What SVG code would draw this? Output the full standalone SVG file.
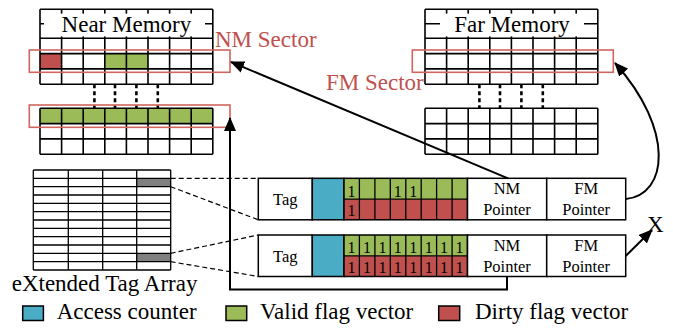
<svg xmlns="http://www.w3.org/2000/svg" width="673" height="329" viewBox="0 0 673 329" font-family="'Liberation Serif', 'Times New Roman', serif">
<style>
text{font-family:"Liberation Serif","Times New Roman",serif;fill:#000}
.big{font-size:23px}
.sm{font-size:16.5px}
.one{font-size:16px;text-anchor:middle}
.red{fill:#C0504D}
.grid{fill:none;stroke:#000;stroke-width:1.6}
.thin{fill:none;stroke:#000;stroke-width:1.3}
.dot{fill:none;stroke:#000;stroke-width:2.6;stroke-dasharray:4 3}
.dash{fill:none;stroke:#000;stroke-width:1.2;stroke-dasharray:5 3}
.sec{fill:none;stroke:#D0655F;stroke-width:1.6}
.box{stroke:#000;stroke-width:1.5}
.g{fill:#9BBB59}.r{fill:#C0504D}.b{fill:#4BACC6}.w{fill:#fff}.gr{fill:#808080}
.conn{fill:none;stroke:#000;stroke-width:2}
</style>
<defs>
<marker id="ah" viewBox="0 0 14 12" refX="13" refY="6" markerWidth="14" markerHeight="12" markerUnits="userSpaceOnUse" orient="auto">
<path d="M0,0 L14,6 L0,12 z" fill="#000"/>
</marker>
<path id="upgrid" d="M0,9.3H172.8M0,23.8H172.8M0,38.3H172.8M0,53.6H172.8M0,68.9H172.8M0,84.2H172.8M0,9.3V84.2M21.6,9.3V84.2M43.2,9.3V84.2M64.8,9.3V84.2M86.4,9.3V84.2M108,9.3V84.2M129.6,9.3V84.2M151.2,9.3V84.2M172.8,9.3V84.2"/>
<path id="lowgrid" d="M0,108.3H172.8M0,123.6H172.8M0,138.9H172.8M0,154.2H172.8M0,108.3V154.2M21.6,108.3V154.2M43.2,108.3V154.2M64.8,108.3V154.2M86.4,108.3V154.2M108,108.3V154.2M129.6,108.3V154.2M151.2,108.3V154.2M172.8,108.3V154.2"/>
<path id="dots" d="M54.4,84.2V108.3M75,84.2V108.3M96.4,84.2V108.3M117.8,84.2V108.3"/>
</defs>

<g id="near-memory" transform="translate(40,0)">
<rect class="r" x="0" y="53.6" width="21.6" height="15.3"/>
<rect class="g" x="64.8" y="53.6" width="43.2" height="15.3"/>
<rect class="g" x="0" y="108.3" width="172.8" height="15.3"/>
<use href="#upgrid" class="grid"/>
<rect class="w" x="4" y="13.6" width="161" height="22.8"/>
<use href="#lowgrid" class="grid"/>
<use href="#dots" class="dot"/>
<text class="big" x="86.4" y="31.5" text-anchor="middle">Near Memory</text>
<rect class="sec" x="-10.7" y="50" width="200.7" height="22.3"/>
<rect class="sec" x="-10.7" y="105" width="200.7" height="22.3"/>
</g>
<g id="nm-sector-label"><text class="big red" x="215" y="46.5">NM Sector</text></g>

<g id="far-memory" transform="translate(425,0)">
<use href="#upgrid" class="grid"/>
<rect class="w" x="15" y="13.6" width="144" height="22.8"/>
<use href="#lowgrid" class="grid"/>
<use href="#dots" class="dot"/>
<text class="big" x="87" y="31.5" text-anchor="middle">Far Memory</text>
<rect class="sec" x="-12.7" y="50" width="201" height="22.3"/>
</g>
<g id="fm-sector-label"><text class="big red" x="326" y="90">FM Sector</text></g>

<g id="xta">
<rect class="gr" x="136.7" y="178.3" width="34" height="8.4"/>
<rect class="gr" x="136.7" y="253.3" width="34" height="8.4"/>
<path class="thin" d="M33.3,170H170.7M33.3,178.3H170.7M33.3,186.7H170.7M33.3,195H170.7M33.3,203.3H170.7M33.3,211.7H170.7M33.3,220H170.7M33.3,228.3H170.7M33.3,236.7H170.7M33.3,245H170.7M33.3,253.3H170.7M33.3,261.7H170.7M33.3,270H170.7M33.3,170V270M68.3,170V270M102.7,170V270M136.7,170V270M170.7,170V270"/>
<text class="big" x="11.7" y="290.5">eXtended Tag Array</text>
</g>

<g id="entry1">
<rect class="box w" x="258.3" y="178.3" width="54" height="41.5"/>
<rect class="box b" x="312.3" y="178.3" width="31.7" height="41.5"/>
<rect class="g" x="344" y="178.3" width="123.5" height="20.9"/>
<rect class="r" x="344" y="199.2" width="123.5" height="20.6"/>
<path class="thin" d="M344,199.2H467.5M359.4,178.3V219.8M374.9,178.3V219.8M390.3,178.3V219.8M405.8,178.3V219.8M421.2,178.3V219.8M436.6,178.3V219.8M452.1,178.3V219.8"/>
<rect class="box" fill="none" x="344" y="178.3" width="123.5" height="41.5"/>
<rect class="box w" x="467.5" y="178.3" width="79.2" height="41.5"/>
<rect class="box w" x="546.7" y="178.3" width="79" height="41.5"/>
<text class="sm" x="285.3" y="205" text-anchor="middle">Tag</text>
<text class="one" x="351.5" y="196.5">1</text>
<text class="one" x="397.8" y="196.5">1</text>
<text class="one" x="413.2" y="196.5">1</text>
<text class="one" x="351.5" y="216">1</text>
<text class="sm" x="507" y="194" text-anchor="middle">NM</text>
<text class="sm" x="507" y="215" text-anchor="middle">Pointer</text>
<text class="sm" x="586.2" y="194" text-anchor="middle">FM</text>
<text class="sm" x="586.2" y="215" text-anchor="middle">Pointer</text>
</g>

<g id="entry2">
<rect class="box w" x="258.3" y="235" width="54" height="41.5"/>
<rect class="box b" x="312.3" y="235" width="31.7" height="41.5"/>
<rect class="g" x="344" y="235" width="123.5" height="20.9"/>
<rect class="r" x="344" y="255.9" width="123.5" height="20.6"/>
<path class="thin" d="M344,255.9H467.5M359.4,235V276.5M374.9,235V276.5M390.3,235V276.5M405.8,235V276.5M421.2,235V276.5M436.6,235V276.5M452.1,235V276.5"/>
<rect class="box" fill="none" x="344" y="235" width="123.5" height="41.5"/>
<rect class="box w" x="467.5" y="235" width="79.2" height="41.5"/>
<rect class="box w" x="546.7" y="235" width="79" height="41.5"/>
<text class="sm" x="285.3" y="261.5" text-anchor="middle">Tag</text>
<text class="one" x="351.5" y="253">1</text><text class="one" x="366.9" y="253">1</text><text class="one" x="382.4" y="253">1</text><text class="one" x="397.8" y="253">1</text><text class="one" x="413.2" y="253">1</text><text class="one" x="428.7" y="253">1</text><text class="one" x="444.1" y="253">1</text><text class="one" x="459.6" y="253">1</text>
<text class="one" x="351.5" y="272.5">1</text><text class="one" x="366.9" y="272.5">1</text><text class="one" x="382.4" y="272.5">1</text><text class="one" x="397.8" y="272.5">1</text><text class="one" x="413.2" y="272.5">1</text><text class="one" x="428.7" y="272.5">1</text><text class="one" x="444.1" y="272.5">1</text><text class="one" x="459.6" y="272.5">1</text>
<text class="sm" x="507" y="251" text-anchor="middle">NM</text>
<text class="sm" x="507" y="272" text-anchor="middle">Pointer</text>
<text class="sm" x="586.2" y="251" text-anchor="middle">FM</text>
<text class="sm" x="586.2" y="272" text-anchor="middle">Pointer</text>
</g>

<g id="x-label"><text class="big" x="647" y="231.5">X</text></g>

<g id="connectors">
<path class="dash" d="M170.7,178.3H258.3"/>
<path class="dash" d="M170.7,186.7L258.3,219.8"/>
<path class="dash" d="M170.7,253.3L258.3,235"/>
<path class="dash" d="M170.7,261.7L258.3,276.5"/>
<path class="conn" d="M508,178.3L231,62" marker-end="url(#ah)"/>
<path class="conn" d="M507,276.5V289.5H230V118" marker-end="url(#ah)"/>
<path class="conn" d="M625.7,199C668,195 675,130 615,63" marker-end="url(#ah)"/>
<path class="conn" d="M625.7,256L652,230" marker-end="url(#ah)"/>
</g>

<g id="legend">
<rect class="box b" x="22.7" y="306" width="20.7" height="14.5"/>
<text class="big" x="56.7" y="319.3">Access counter</text>
<rect class="box g" x="226" y="306" width="20.7" height="14.5"/>
<text class="big" x="260" y="319.3">Valid flag vector</text>
<rect class="box r" x="438.7" y="306" width="21" height="14.5"/>
<text class="big" x="475" y="319.3">Dirty flag vector</text>
</g>
</svg>
